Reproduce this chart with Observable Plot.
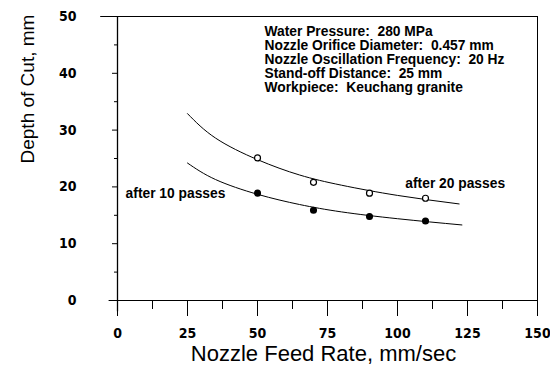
<!DOCTYPE html>
<html>
<head>
<meta charset="utf-8">
<script src="https://cdn.jsdelivr.net/npm/d3@7"></script>
<script src="https://cdn.jsdelivr.net/npm/@observablehq/plot@0.6"></script>
<style>
  html, body { margin: 0; padding: 0; background: #fff; }
  svg text { white-space: pre; }
</style>
</head>
<body>
<div id="chart"></div>
<script>
// Measured points (Nozzle feed rate, mm/sec → depth of cut, mm)
const feedRates = [50, 70, 90, 110];
const depth20 = [25.1, 20.8, 18.9, 18.0];   // after 20 passes (open circles)
const depth10 = [18.9, 15.9, 14.8, 14.0];   // after 10 passes (filled circles)

// Fitted curves
const curve20X = [25, 35, 50, 65, 80, 100, 122];
const curve20Y = [32.9, 28.6, 24.8, 22.1, 20.3, 18.5, 17.0];
const curve10X = [25, 35, 50, 65, 80, 100, 123];
const curve10Y = [24.2, 21.3, 18.7, 16.9, 15.6, 14.4, 13.3];

// Ticks
const xMajorTicks = [0, 25, 50, 75, 100, 125, 150];
const xMinorTicks = [12.5, 37.5, 62.5, 87.5, 112.5, 137.5];
const yMajorTicks = [0, 10, 20, 30, 40, 50];
const yMinorTicks = [5, 15, 25, 35, 45];

// Text
const infoLines = [
  "Water Pressure:  280 MPa",
  "Nozzle Orifice Diameter:  0.457 mm",
  "Nozzle Oscillation Frequency:  20 Hz",
  "Stand-off Distance:  25 mm",
  "Workpiece:  Keuchang granite"
];
const label20 = "after 20 passes";
const label10 = "after 10 passes";
const xTitle = "Nozzle Feed Rate, mm/sec";
const yTitle = "Depth of Cut, mm";

const pts20 = feedRates.map((x, i) => ({x, y: depth20[i]}));
const pts10 = feedRates.map((x, i) => ({x, y: depth10[i]}));
const c20 = curve20X.map((x, i) => ({x, y: curve20Y[i]}));
const c10 = curve10X.map((x, i) => ({x, y: curve10Y[i]}));

const tickFont = {fontSize: 14, fontWeight: "bold", fontFamily: "'Liberation Sans Narrow', 'DejaVu Sans Condensed', 'DejaVu Sans', sans-serif"};

const chart = Plot.plot({
  width: 550,
  height: 372,
  marginLeft: 117,
  marginRight: 13,
  marginTop: 16,
  marginBottom: 72,
  style: {fontFamily: "'Liberation Sans', Arial, sans-serif", background: "#fff", color: "#000"},
  x: {domain: [0, 150], label: null},
  y: {domain: [0, 50], label: null},
  marks: [
    // frame / axis lines
    Plot.ruleY([50], {x1: -6, x2: 150, stroke: "#000", strokeWidth: 1}),
    Plot.ruleX([150], {y1: -1, y2: 50, stroke: "#000", strokeWidth: 1}),
    Plot.ruleY([0], {x1: -3, x2: 150, stroke: "#000", strokeWidth: 1}),
    Plot.ruleX([0], {y1: -2, y2: 50, stroke: "#000", strokeWidth: 1.3}),
    // axes
    Plot.axisY({ticks: yMajorTicks, tickSize: 5, tickPadding: 36, tickFormat: d => String(d), ...tickFont}),
    Plot.axisY({ticks: yMinorTicks, tickSize: 3, tickFormat: () => ""}),
    Plot.axisX({ticks: xMajorTicks, tickSize: 16, tickPadding: 12, tickFormat: d => String(d), ...tickFont}),
    Plot.axisX({ticks: xMinorTicks, tickSize: 9, tickFormat: () => ""}),
    // curves
    Plot.line(c20, {x: "x", y: "y", curve: "natural", stroke: "#000", strokeWidth: 1}),
    Plot.line(c10, {x: "x", y: "y", curve: "natural", stroke: "#000", strokeWidth: 1}),
    // points
    Plot.dot(pts20, {x: "x", y: "y", r: 3, fill: "#fff", stroke: "#000", strokeWidth: 1.2}),
    Plot.dot(pts10, {x: "x", y: "y", r: 2.8, fill: "#000", stroke: "#000"}),
    // annotations
    Plot.text([infoLines.join("\n")], {x: 52.5, y: 48.3, textAnchor: "start", lineAnchor: "top", lineHeight: 1.02, fontSize: 13.8, fontWeight: "bold"}),
    Plot.text([label20], {x: 102.8, y: 20.5, textAnchor: "start", fontSize: 13.8, fontWeight: "bold"}),
    Plot.text([label10], {x: 2.9, y: 18.9, textAnchor: "start", fontSize: 13.8, fontWeight: "bold"}),
    // axis titles
    Plot.text([xTitle], {frameAnchor: "bottom", dx: -4, dy: 60, fontSize: 22}),
    Plot.text([yTitle], {frameAnchor: "left", dx: -90, dy: 5, rotate: -90, fontSize: 19})
  ]
});
document.getElementById("chart").appendChild(chart);
</script>
</body>
</html>
